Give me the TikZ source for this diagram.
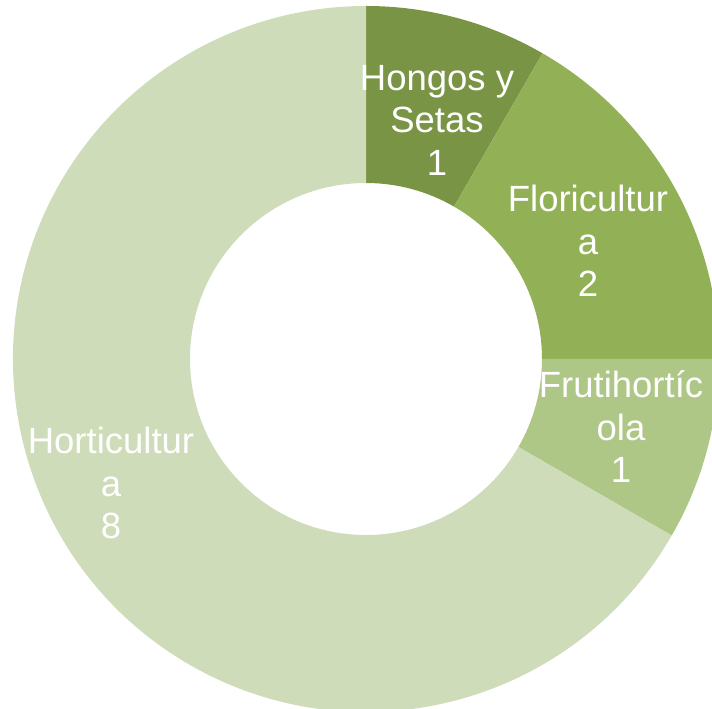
\documentclass[tikz,border=0pt]{standalone}
\usepackage{fontspec}
\setmainfont{Liberation Sans}
\definecolor{hongos}{HTML}{7A9445}
\definecolor{flori}{HTML}{92B056}
\definecolor{fruti}{HTML}{AEC686}
\definecolor{horti}{HTML}{CEDCBA}
\begin{document}
\begin{tikzpicture}[x=1pt,y=1pt,
  lbl/.style={text=white,align=center,inner sep=0pt,font=\fontsize{36.5}{42.5}\selectfont}]
\useasboundingbox (0,0) rectangle (712,709);
\clip (0,0) rectangle (712,709);
\def\R{353}\def\r{176}
\begin{scope}[shift={(366,350)}]
  \fill[hongos] (90:\R) arc[start angle=90,end angle=60,radius=\R] -- (60:\r) arc[start angle=60,end angle=90,radius=\r] -- cycle;
  \fill[flori] (60:\R) arc[start angle=60,end angle=0,radius=\R] -- (0:\r) arc[start angle=0,end angle=60,radius=\r] -- cycle;
  \fill[fruti] (0:\R) arc[start angle=0,end angle=-30,radius=\R] -- (-30:\r) arc[start angle=-30,end angle=0,radius=\r] -- cycle;
  \fill[horti] (-30:\R) arc[start angle=-30,end angle=-270,radius=\R] -- (-270:\r) arc[start angle=-270,end angle=-30,radius=\r] -- cycle;
\end{scope}
\node[lbl] (hongos) at (437,589) {Hongos y\\Setas\\1};
\node[lbl] (flori) at (588,468) {Floricultur\\a\\2};
\node[lbl] (fruti) at (621,282) {Frutihortíc\\ola\\1};
\node[lbl] (horti) at (111,226) {Horticultur\\a\\8};
\end{tikzpicture}
\end{document}
